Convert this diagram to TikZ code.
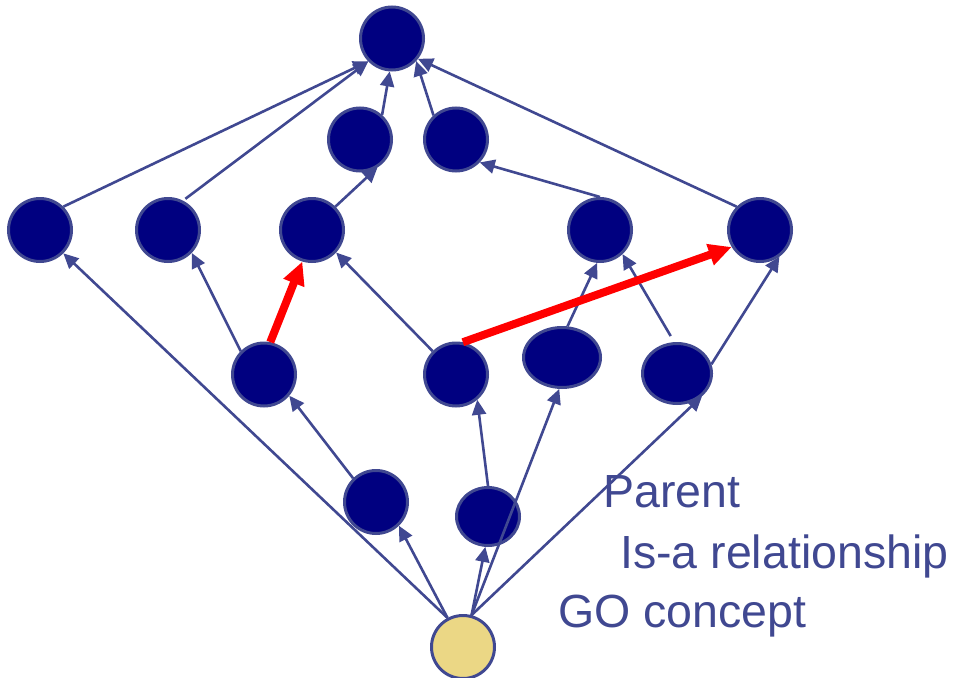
\documentclass[tikz,border=0pt]{standalone}
\usepackage{fontspec}
\setmainfont{Liberation Sans}
\usetikzlibrary{arrows.meta,shapes.geometric}
\definecolor{concept}{RGB}{0,0,128}
\definecolor{rim}{RGB}{64,72,145}
\definecolor{query}{RGB}{235,215,133}
\definecolor{hot}{RGB}{255,0,0}
\begin{document}
\begin{tikzpicture}[x=1pt,y=-1pt,
  term/.style={circle,draw=rim,fill=concept,line width=3pt,minimum size=63pt,inner sep=0pt},
  oval/.style={ellipse,draw=rim,fill=concept,line width=3pt,inner sep=0pt},
  isa/.style={draw=rim,line width=2.6pt,-{Triangle[length=15pt,width=14pt]}},
  redpath/.style={draw=hot,line width=8pt,-{Triangle[length=23pt,width=21pt]}},
  legend/.style={text=rim,anchor=base west,font=\fontsize{46.5}{56}\selectfont,inner sep=0pt}]
\useasboundingbox (0,0) rectangle (957,677);

% GO terms
\node[term] (T)  at (392,38.5) {};
\node[term] (m1) at (360,139.5) {};
\node[term] (m2) at (456,139.5) {};
\node[term] (n1) at (40,230) {};
\node[term] (n2) at (168,230) {};
\node[term] (n3) at (312,230) {};
\node[term] (n4) at (600,230) {};
\node[term] (n5) at (760,230) {};
\node[term] (a)  at (264,374.5) {};
\node[term] (b)  at (456,374.5) {};
\node[oval,minimum width=77pt,minimum height=60pt] (c) at (562,357.5) {};
\node[oval,minimum width=69pt,minimum height=60pt] (d) at (677,373.5) {};
\node[term] (e)  at (376,502) {};
\node[oval,minimum width=63pt,minimum height=58pt] (f) at (488,516.5) {};
\node[term,fill=query] (Y) at (463,647) {};

% is-a edges (child -> parent)
\draw[isa] (n1.45) -- (T.224);
\draw[isa,shorten <=3pt] (n2.63) -- (T.224);
\draw[isa] (m1.48) -- (T.266);
\draw[isa] (m2.133) -- (T.317);
\draw[isa] (n5.135) -- (T.322);
\draw[isa] (n3.45) -- (m1.302);
\draw[isa] (n4.90) -- (m2.316);
\draw[isa] (a.135) -- (n2.316);
\draw[isa] (b.135) -- (n3.317);
\draw[isa] (c.80) -- (n4.265);
\draw[isa,shorten <=7pt] (d.95) -- (n4.313);
\draw[isa] (d.15) -- (n5.306);
\draw[isa] (e.134) -- (a.320);
\draw[isa] (f.90) -- (b.310);
\draw[isa] (Y.118) -- (n1.315);
\draw[isa] (Y.118) -- (e.314);
\draw[isa] (Y.75) -- (f.265);
\draw[isa] (Y.75) -- (c.265);
\draw[isa] (Y.75) -- (d.318);

% highlighted parent links
\draw[redpath] (a.79) -- (n3.253);
\draw[redpath] (b.78) -- (n5.211);

% legend
\node[legend] (t1) at (603,507) {Parent};
\node[legend] (t2) at (620,568) {Is-a relationship};
\node[legend] (t3) at (558,627) {GO concept};
\end{tikzpicture}
\end{document}
